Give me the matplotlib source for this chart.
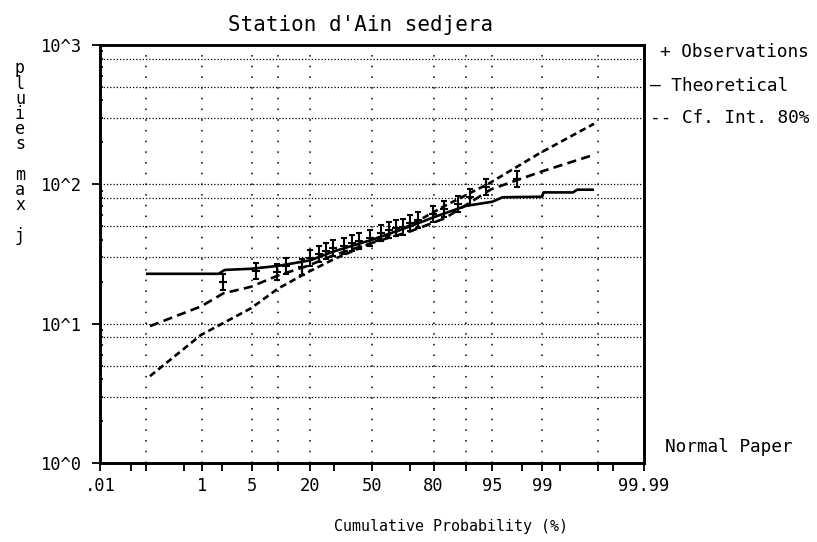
import numpy as np
import matplotlib
matplotlib.use("Agg")
import matplotlib.pyplot as plt
from matplotlib.path import Path
from statistics import NormalDist

# ---------------- data ----------------
title = "Station d'Ain sedjera"
ylabel_text = "pluies max j"
xlabel_text = "Cumulative Probability (%)"

xtick_major = [0.01, 1, 5, 20, 50, 80, 95, 99, 99.99]
xtick_labels = [".01", "1", "5", "20", "50", "80", "95", "99", "99.99"]
xtick_minor = [0.05, 0.1, 0.5, 2, 10, 30, 70, 90, 98, 99.5, 99.9, 99.95]
xgrid = [0.1, 1, 5, 10, 20, 50, 80, 90, 95, 99, 99.9]

ytick_major = [1, 10, 100, 1000]
ytick_labels = ["10^0", "10^1", "10^2", "10^3"]
ygrid = [3, 5, 8, 10, 30, 50, 80, 100, 300, 500, 800]

obs_prob = [2.1, 5.7, 9.6, 11.9, 17.0, 19.7, 23.3, 26.5, 29.9, 35.3, 39.1, 43.0,
            49.0, 55.0, 59.0, 62.8, 66.5, 70.0, 73.5, 79.6, 83.6, 88.0, 90.9,
            94.0, 97.6]
obs_val = [19.9, 24.0, 23.4, 26.0, 25.3, 29.8, 31.5, 33.2, 35.0, 36.0, 38.0, 39.0,
           41.0, 44.6, 47.0, 48.3, 49.6, 52.4, 55.4, 61.6, 66.8, 72.4, 80.8,
           95.0, 110.0]

theo_prob = [0.1, 1.8, 2.2, 5, 10, 20, 30, 50, 70, 80, 90, 95, 96.3, 99.0,
             99.05, 99.7, 99.75, 99.88]
theo_val = [22.8, 22.8, 24.3, 24.8, 26.0, 28.5, 33.0, 40.0, 50.0, 58.0, 70.0,
            75.0, 80.8, 81.5, 87.5, 87.5, 91.5, 91.5]

ciA_prob = [0.12, 0.97, 4.9, 10, 19, 30, 50, 70, 84, 94.6, 98.9, 99.88]
ciA_val = [4.2, 8.3, 12.9, 17.9, 23.4, 29.0, 38.0, 51.0, 70.0, 102.0, 167.0, 272.0]

ciB_prob = [0.12, 0.97, 2.1, 4.9, 10, 19, 30, 50, 70, 84, 94.8, 99.0, 99.88]
ciB_val = [9.6, 13.3, 16.5, 18.4, 22.2, 26.0, 31.0, 38.0, 46.0, 57.0, 92.0, 124.0, 163.0]

legend_texts = ["+ Observations", "\u2014 Theoretical", "-- Cf. Int. 80%"]
paper_text = "Normal Paper"

# ---------------- normal probability scale ----------------
_nd = NormalDist()
_ppf = np.vectorize(_nd.inv_cdf, otypes=[float])
_cdf = np.vectorize(_nd.cdf, otypes=[float])


def fwd(p):
    p = np.asarray(p, dtype=float)
    q = np.clip(p / 100.0, 1e-9, 1 - 1e-9)
    return _ppf(q)


def inv(z):
    z = np.asarray(z, dtype=float)
    return _cdf(z) * 100.0


FONT = "DejaVu Sans Mono"
plt.rcParams["font.family"] = FONT

W, H = 817, 542
fig = plt.figure(figsize=(W / 100, H / 100), dpi=100)
fig.patch.set_facecolor("white")

L, R, T, B = 100, 644, 45, 463
ax = fig.add_axes([L / W, 1 - B / H, (R - L) / W, (B - T) / H])
ax.set_xscale("function", functions=(fwd, inv))
ax.set_yscale("log")
ax.set_xlim(0.01, 99.99)
ax.set_ylim(1, 1000)

# grid
for g in ygrid:
    ax.axhline(g, color="black", lw=0.9, ls=(0, (1, 1.6)), zorder=1)
for g in xgrid:
    ax.axvline(g, color="black", lw=1.1, ls=(0, (1, 6)), zorder=1)

# ticks
ax.set_xticks(xtick_major)
ax.set_xticklabels(xtick_labels)
ax.set_xticks(xtick_minor, minor=True)
ax.set_xticklabels([], minor=True)
ax.set_yticks(ytick_major)
ax.set_yticklabels(ytick_labels)
ax.yaxis.set_minor_locator(matplotlib.ticker.LogLocator(base=10, subs=np.arange(2, 10)))
ax.yaxis.set_minor_formatter(matplotlib.ticker.NullFormatter())
ax.tick_params(axis="x", which="both", direction="out", length=6, width=1.3,
               labelsize=12.3, pad=4, colors="black")
ax.tick_params(axis="y", which="major", direction="out", length=6, width=1.3,
               labelsize=12.3, pad=7, colors="black")
ax.tick_params(axis="y", which="minor", direction="in", length=2.5, width=1.2)
ax.tick_params(top=False, right=False)

for s in ax.spines.values():
    s.set_linewidth(2.1)
    s.set_color("black")

# curves
ax.plot(theo_prob, theo_val, color="black", lw=1.9, solid_capstyle="butt", zorder=3)
ax.plot(ciA_prob, ciA_val, color="black", lw=1.9, ls=(0, (2.5, 1.5)), zorder=3)
ax.plot(ciB_prob, ciB_val, color="black", lw=1.9, ls=(0, (3.5, 2)), zorder=3)

# observation marker: tall plus with caps
verts = [(0, -1), (0, 1), (-0.35, 1), (0.35, 1), (-0.35, -1), (0.35, -1),
         (-0.55, 0), (0.55, 0)]
codes = [Path.MOVETO, Path.LINETO] * 4
obs_marker = Path(verts, codes)
ax.plot(obs_prob, obs_val, ls="none", marker=obs_marker, markersize=11,
        markeredgewidth=1.5, color="black", zorder=4)

# texts
fig.text(361 / W, 1 - 25 / H, title, ha="center", va="center", fontsize=15)
fig.text(451 / W, 1 - 527 / H, xlabel_text, ha="center", va="center", fontsize=10.8)

fig.text(20 / W, 1 - 152 / H, "\n".join(ylabel_text), ha="center", va="center",
         multialignment="center", fontsize=12, linespacing=0.8)

leg_y = [52, 86, 118]
leg_x = [660, 650, 650]
for t, yy, xx in zip(legend_texts, leg_y, leg_x):
    fig.text(xx / W, 1 - yy / H, t, ha="left", va="center", fontsize=12.8)
fig.text(665 / W, 1 - 447 / H, paper_text, ha="left", va="center", fontsize=12.8)

fig.savefig("out.png", dpi=100, facecolor="white")
